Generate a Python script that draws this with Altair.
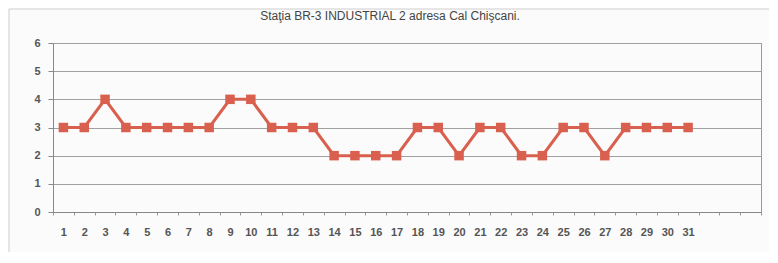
import altair as alt
import pandas as pd

days = list(range(1, 32))
values = [3, 3, 4, 3, 3, 3, 3, 3, 4, 4, 3, 3, 3, 2, 2, 2, 2, 3, 3, 2,
          3, 3, 2, 2, 3, 3, 2, 3, 3, 3, 3]
x_domain = list(range(1, 35))
title_text = "Staţia BR-3 INDUSTRIAL 2 adresa Cal Chişcani."

df = pd.DataFrame({"day": days, "value": values})

RED = "#d9604f"
W, H = 708, 169

x = alt.X("day:O", scale=alt.Scale(type="band", domain=x_domain, paddingInner=0, paddingOuter=0),
          axis=alt.Axis(title=None, labelAngle=0, tickBand="extent", tickSize=3, tickColor="#999",
                        domainColor="#888", labelExpr="datum.value <= 31 ? datum.label : ''",
                        labelPadding=11, labelFont="Liberation Sans", labelFontSize=11,
                        labelFontWeight="bold", labelColor="#555", grid=False))
y = alt.Y("value:Q", scale=alt.Scale(domain=[0, 6], nice=False),
          axis=alt.Axis(title=None, values=[0, 1, 2, 3, 4, 5, 6], grid=True, gridColor="#a0a0a0",
                        gridWidth=1, tickSize=5, tickColor="#888", domainColor="#888",
                        labelPadding=8, labelFont="Liberation Sans", labelFontSize=11,
                        labelFontWeight="bold", labelColor="#555"))

line = alt.Chart(df).mark_line(color=RED, strokeWidth=3).encode(x=x, y=y)
pts = alt.Chart(df).mark_point(shape="square", filled=True, size=90, color=RED, opacity=1).encode(x=x, y=y)

title = alt.Chart(pd.DataFrame({"t": [title_text]})).mark_text(
    font="Liberation Sans", fontSize=12, color="#444", align="center", baseline="middle"
).encode(text="t:N", x=alt.value(337), y=alt.value(-27))

border = alt.Chart(pd.DataFrame({"a": [0]})).mark_rect(
    fill=None, stroke="#d0d0d0", strokeWidth=1
).encode(x=alt.value(-44), x2=alt.value(760), y=alt.value(-34), y2=alt.value(260))

chart = alt.layer(border, line, pts, title).properties(
    width=W, height=H,
    autosize=alt.AutoSizeParams(type="none"),
    padding={"left": 45, "top": 35, "right": 8, "bottom": 40},
    background="#fbfbfb",
).configure_view(stroke="#999", fill="#fbfbfb")

chart.save("out.html", embed_options={"renderer": "svg", "actions": False})
